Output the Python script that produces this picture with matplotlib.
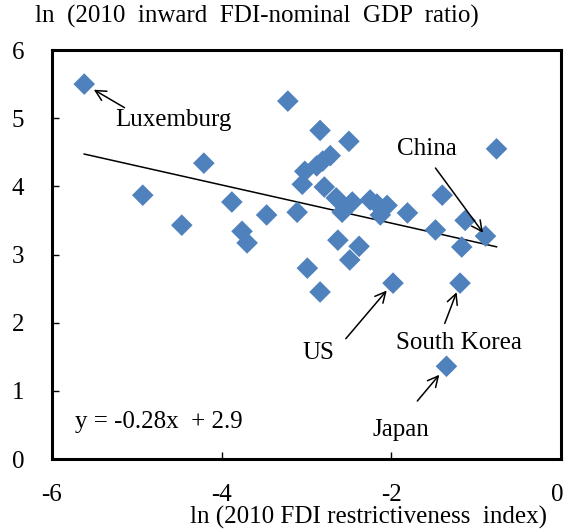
import matplotlib
matplotlib.use("Agg")
import matplotlib.pyplot as plt
import matplotlib.transforms as mtransforms
import numpy as np

plt.rcParams['font.family'] = ['Liberation Serif', 'DejaVu Serif']
plt.rcParams['axes.unicode_minus'] = False

# ln(2010 FDI restrictiveness index) vs ln(2010 inward FDI / nominal GDP)
fdi_restrict = [
    -5.62, -4.93, -4.47, -4.21, -3.88, -3.76, -3.70, -3.47, -3.22, -3.11,
    -3.02, -3.05, -2.88, -2.81, -2.72, -2.79, -2.99, -2.84, -2.65, -2.50,
    -2.58, -2.46, -2.63, -2.38, -2.49, -2.25, -2.17, -2.05, -2.13, -1.81,
    -1.98, -1.48, -1.40, -1.13, -1.17, -1.19, -1.35, -0.89, -0.76, -2.84,
]
fdi_gdp = [
    5.50, 3.87, 3.43, 4.34, 3.77, 3.34, 3.17, 3.58, 5.25, 3.62,
    4.22, 4.03, 4.30, 4.37, 4.45, 3.99, 2.80, 4.82, 3.83, 4.66,
    3.62, 3.77, 3.21, 3.12, 2.92, 3.80, 3.74, 3.72, 3.58, 3.61,
    2.58, 3.36, 3.87, 3.50, 3.11, 2.58, 1.36, 3.27, 4.55, 2.45,
]

slope, intercept = -0.28, 2.9

# labelled countries: name, index into the data
labelled = [
    ("Luxemburg", 0),
    ("China", 37),
    ("US", 30),
    ("South Korea", 35),
    ("Japan", 36),
]
# arrow tail / label offsets (points) and arrow-tip gap (points)
arrow_tail = {"Luxemburg": (29, -17), "China": (-36, 49), "US": (-34, -40),
              "South Korea": (-11, -29), "Japan": (-21, -25)}
label_off = {"Luxemburg": (64, -26), "China": (-42, 63), "US": (-54, -50),
             "South Korea": (-1, -43), "Japan": (-33, -46)}
tip_gap = {"Luxemburg": 8, "China": 3, "US": 7, "South Korea": 7, "Japan": 8}

FS = 18

fig = plt.figure(figsize=(5.64, 5.30), dpi=100)
ax = fig.add_axes([52 / 564, 71 / 530, 509 / 564, 409 / 530])

ax.scatter(fdi_restrict, fdi_gdp, marker='D', s=11 ** 2, color='#4F81BD',
           edgecolors='none', zorder=3)

xs = np.array([min(fdi_restrict), max(fdi_restrict)])
ax.plot(xs, slope * xs + intercept, color='black', lw=1.1, zorder=2)

ax.text(0.045, 0.09, "y = -0.28x  + 2.9", transform=ax.transAxes,
        fontsize=FS, ha='left', va='center')

for name, i in labelled:
    pt = (fdi_restrict[i], fdi_gdp[i])
    ax.annotate('', xy=pt, xytext=arrow_tail[name], textcoords='offset points',
                arrowprops=dict(arrowstyle='->,head_length=0.75,head_width=0.38',
                                color='black', lw=1.1, shrinkA=0,
                                shrinkB=tip_gap[name]), zorder=4)
    ax.annotate(name, xy=pt, xytext=label_off[name], textcoords='offset points',
                ha='center', va='center', fontsize=FS)

ax.set_xlim(-6, 0)
ax.set_ylim(0, 6)
ax.set_xticks([-6, -4, -2, 0])
ax.set_yticks([0, 1, 2, 3, 4, 5, 6])
ax.tick_params(direction='in', length=5, width=1, labelsize=FS)
ax.tick_params(axis='y', pad=20)
ax.tick_params(axis='x', pad=18)
for s in ax.spines.values():
    s.set_linewidth(2.2)

# nudge the rightmost x label so it stays inside the figure
last = ax.get_xticklabels()[-1]
last.set_transform(last.get_transform() +
                   mtransforms.ScaledTranslation(-4 / 100, 0, fig.dpi_scale_trans))

fig.text(35 / 564, 1 - 16 / 530, "ln  (2010  inward  FDI-nominal  GDP  ratio)",
         fontsize=FS, ha='left', va='center')
fig.text(368 / 564, 1 - 517 / 530, "ln (2010 FDI restrictiveness  index)",
         fontsize=FS, ha='center', va='center')

fig.savefig("out.png", dpi=100)
